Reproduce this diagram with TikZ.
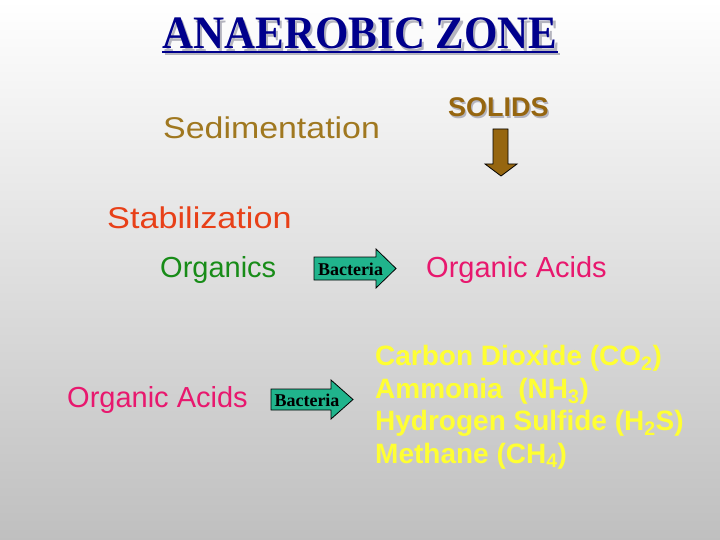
\documentclass[tikz,border=0pt]{standalone}
\usepackage{fontspec}
\setmainfont{Liberation Serif}
\newfontfamily\arial{Liberation Sans}
\usetikzlibrary{positioning}

\definecolor{navy}{RGB}{0,0,140}
\definecolor{shadowgray}{RGB}{180,180,190}
\definecolor{sedbrown}{RGB}{160,120,32}
\definecolor{solidbrown}{RGB}{150,102,16}
\definecolor{stabred}{RGB}{232,64,24}
\definecolor{orggreen}{RGB}{24,140,24}
\definecolor{acidpink}{RGB}{232,24,110}
\definecolor{gasyellow}{RGB}{255,255,51}
\definecolor{bactteal}{RGB}{32,180,140}

\begin{document}
\begin{tikzpicture}[x=1pt,y=-1pt,
  txt/.style={inner sep=0pt,anchor=base west,font=\arial\fontsize{29}{34}\selectfont},
  bigtxt/.style={txt,font=\arial\fontsize{30}{36}\selectfont},
  gas/.style={txt,font=\arial\bfseries\fontsize{28}{32}\selectfont,text=gasyellow},
  titletxt/.style={inner sep=0pt,anchor=base,yscale=1.08,transform shape,
    font=\bfseries\fontsize{43}{50}\selectfont},
  bactarrow/.style={fill=bactteal,draw=black,line width=0.8pt},
  bacttxt/.style={inner sep=0pt,anchor=base,font=\bfseries\fontsize{18}{21}\selectfont}]

  % background
  \shade[top color=white,bottom color=gray!50] (0,0) rectangle (720,540);
  \useasboundingbox (0,0) rectangle (720,540);

  % title with shadow
  \node[titletxt,text=shadowgray] (titleshadow) at (362.5,51.5) {ANAEROBIC ZONE};
  \draw[shadowgray,line width=2pt] ([yshift=-3pt]titleshadow.base west) -- ([yshift=-3pt]titleshadow.base east);
  \node[titletxt,text=navy] (title) at (360,49) {ANAEROBIC ZONE};
  \draw[navy,line width=2pt] ([yshift=-3pt]title.base west) -- ([yshift=-3pt]title.base east);

  % sedimentation
  \node[bigtxt,text=sedbrown,xscale=1.13,transform shape] (sed) at (163,139) {Sedimentation};
  \node[txt,font=\arial\bfseries\fontsize{27}{32}\selectfont,text=shadowgray] (solidsshadow) at (449.5,118.5) {SOLIDS};
  \node[txt,font=\arial\bfseries\fontsize{27}{32}\selectfont,text=solidbrown] (solids) at (448,117) {SOLIDS};
  \draw[fill=solidbrown,draw=black,line width=0.8pt] (493,129) -- (508,129) -- (508,164) -- (517,164)
    -- (501,176) -- (485,164) -- (493,164) -- cycle;

  % stabilization
  \node[bigtxt,text=stabred,xscale=1.14,transform shape] (stab) at (107,229) {Stabilization};
  \node[txt,text=orggreen] (organics) at (160,277) {Organics};
  \draw[bactarrow] (314,257) -- (376,257) -- (376,249) -- (396,268.5) -- (376,288) -- (376,280)
    -- (314,280) -- cycle;
  \node[bacttxt] (bact1) at (350.5,275) {Bacteria};
  \node[txt,text=acidpink] (acids1) at (426,277) {Organic Acids};

  \node[txt,text=acidpink] (acids2) at (67,407) {Organic Acids};
  \draw[bactarrow] (271,389) -- (331,389) -- (331,380) -- (353,399.5) -- (331,419) -- (331,410)
    -- (271,410) -- cycle;
  \node[bacttxt] (bact2) at (307,406) {Bacteria};

  % products
  \node[gas] (co2) at (375,365.5) {Carbon Dioxide (CO\textsubscript{2})};
  \node[gas] (nh3) at (375,398) {Ammonia~~(NH\textsubscript{3})};
  \node[gas] (h2s) at (375,430.5) {Hydrogen Sulfide (H\textsubscript{2}S)};
  \node[gas] (ch4) at (375,463) {Methane (CH\textsubscript{4})};
\end{tikzpicture}
\end{document}
